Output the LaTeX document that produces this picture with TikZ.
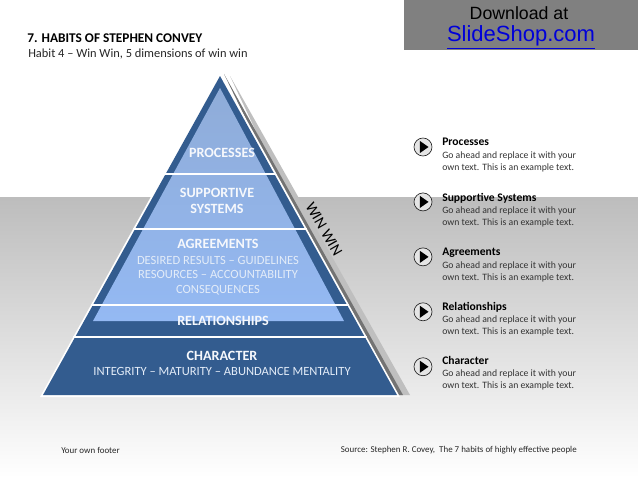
\documentclass[tikz,border=0pt]{standalone}
\usepackage{xcolor}
\usepackage{fontspec}
\setmainfont{Carlito}
\newfontfamily\arialfont{Liberation Sans}
\usetikzlibrary{shapes,positioning}

\definecolor{pyrdark}{HTML}{335C8F}
\definecolor{pyrtop}{HTML}{8FACD8}
\definecolor{pyrlow}{HTML}{94B9F3}
\definecolor{pyrtext}{HTML}{E3ECF8}
\newcommand{\infohead}[1]{{\fontsize{8.7}{9.6}\selectfont\bfseries\color{black}#1}}

\begin{document}
\begin{tikzpicture}[
    x=0.75pt, y=-0.75pt,
    layerhead/.style={text=white!92!pyrtop, font=\fontsize{10.6}{12}\selectfont\bfseries, align=center, inner sep=0pt},
    layertext/.style={text=pyrtext, font=\fontsize{9.4}{11}\selectfont, align=center, inner sep=0pt},
    playbtn/.style={circle, draw=black!85, line width=0.5pt, fill=white!90!black, minimum size=13.5pt, inner sep=0pt},
    playmark/.style={isosceles triangle, isosceles triangle apex angle=70, fill=black, minimum size=6.5pt, inner sep=0pt},
    infotext/.style={font=\fontsize{7.3}{9.2}\selectfont, text=black!80, align=left, inner sep=0pt, anchor=north west},
    footer/.style={font=\fontsize{6.7}{8}\selectfont, text=black!85, inner sep=0pt},
    sepline/.style={white, line width=1.1pt}
]
\useasboundingbox (0,0) rectangle (638,478);

% background band
\shade[top color=black!26, bottom color=white] (0,197) rectangle (638,478);

% shadow of the pyramid
\fill[black!25] (230,76) -- (410,395) -- (380,395) -- cycle;
\fill[black!55] (224,74) -- (403,395) -- (380,395) -- cycle;

% pyramid
\fill[white] (220,72) -- (400,397) -- (40,397) -- cycle;
\fill[pyrdark] (220,76) -- (397,395) -- (43,395) -- cycle;
\shade[top color=pyrtop, bottom color=pyrlow] (220,88) -- (344,321) -- (93,321) -- cycle;

\draw[sepline] (164,174) -- (276,174);
\draw[sepline] (133,229) -- (307,229);
\draw[sepline] (91,305) -- (349,305);
\draw[sepline] (73,337) -- (367,337);

% layers
\node[layerhead] (processes) at (222,153) {PROCESSES};
\node[layerhead] (supportive) at (217,201) {SUPPORTIVE\\[0.6pt]SYSTEMS};
\node[layerhead] (agreements) at (218,244) {AGREEMENTS};
\node[layertext, below=5.2pt of agreements] (agreetext) {DESIRED RESULTS -- GUIDELINES\\RESOURCES -- ACCOUNTABILITY\\CONSEQUENCES};
\node[layerhead] (relationships) at (223,321) {RELATIONSHIPS};
\node[layerhead] (character) at (222,356) {CHARACTER};
\node[layertext, below=4.8pt of character] (chartext) {INTEGRITY -- MATURITY -- ABUNDANCE MENTALITY};

\node[rotate=-60, font=\fontsize{11.6}{12}\selectfont, inner sep=0pt] (winwin) at (324,229) {WIN WIN};

% title
\node[anchor=west, inner sep=0pt, font=\fontsize{10}{12}\selectfont\bfseries] (title) at (27,38) {7. HABITS OF STEPHEN CONVEY};
\node[anchor=west, inner sep=0pt, font=\fontsize{9.3}{12}\selectfont, text=black!85] (subtitle) at (28,54) {Habit 4 -- Win Win, 5 dimensions of win win};

% download box
\fill[black!50] (404,0) rectangle (638,50);
\node[font=\arialfont\fontsize{13.3}{16}\selectfont, inner sep=0pt] (download) at (519,13) {Download at};
\node[font=\arialfont\fontsize{16.5}{20}\selectfont, text=blue!85!black, inner sep=0pt] (slideshop) at (521,37) {\underline{SlideShop.com}};

% right column
\node[playbtn] (b1) at (423,147) {};
\node[playbtn, below=27.2pt of b1] (b2) {};
\node[playbtn, below=27.2pt of b2] (b3) {};
\node[playbtn, below=27.2pt of b3] (b4) {};
\node[playbtn, below=27.2pt of b4] (b5) {};
\node[playmark] (m1) at (b1) {};
\node[playmark] (m2) at (b2) {};
\node[playmark] (m3) at (b3) {};
\node[playmark] (m4) at (b4) {};
\node[playmark] (m5) at (b5) {};

\node[infotext] (t1) at (442,138) {\infohead{Processes}\\Go ahead and replace it with your\\own text. This is an example text.};
\node[infotext] (t2) at (442,193) {\infohead{Supportive Systems}\\Go ahead and replace it with your\\own text. This is an example text.};
\node[infotext] (t3) at (442,248) {\infohead{Agreements}\\Go ahead and replace it with your\\own text. This is an example text.};
\node[infotext] (t4) at (442,302) {\infohead{Relationships}\\Go ahead and replace it with your\\own text. This is an example text.};
\node[infotext] (t5) at (442,356) {\infohead{Character}\\Go ahead and replace it with your\\own text. This is an example text.};

% footers
\node[footer, anchor=west] (foot1) at (61,450) {Your own footer};
\node[footer, anchor=east] (foot2) at (577,450) {Source: Stephen R. Covey,\ \ The 7 habits of highly effective people};
\end{tikzpicture}
\end{document}
